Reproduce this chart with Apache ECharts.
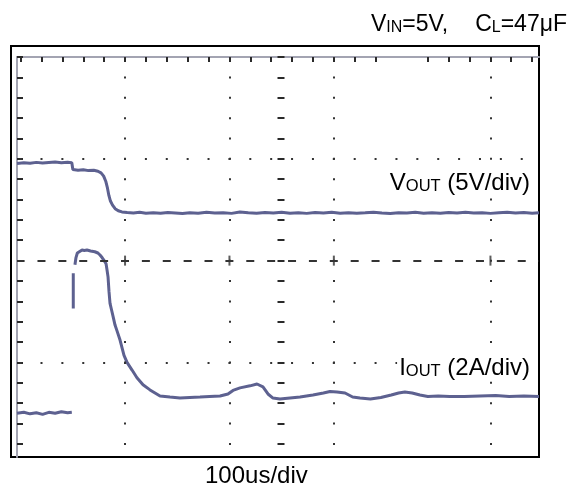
<!DOCTYPE html>
<html>
<head>
<meta charset="utf-8">
<script src="https://cdn.jsdelivr.net/npm/echarts@6/dist/echarts.min.js"></script>
<style>
  html, body { margin: 0; padding: 0; background: #fff; }
  #chart { width: 575px; height: 488px; }
</style>
</head>
<body>
<div id="chart"></div>
<script>
// time in us (100us/div), level in screen divisions (0 = dashed centre line)
var voutTime = [-3.5, 3, 9, 15, 21, 27, 33, 39, 45, 49, 50, 55, 60, 65, 70, 74, 77, 79.5, 81.5, 83, 84.5, 86, 88, 90.5, 93.5, 97,
  102, 108, 114, 120, 127, 134, 141, 148, 155, 162, 170, 178, 186, 194, 202, 210, 218, 226, 234, 242, 250, 258, 266, 274,
  282, 290, 298, 306, 314, 322, 330, 338, 346, 354, 362, 370, 378, 386, 394, 402, 410, 418, 426, 434, 442, 450, 458, 466,
  474, 482, 490, 496.5];
var voutLevel = [0.955, 0.962, 0.957, 0.965, 0.958, 0.963, 0.968, 0.961, 0.966, 0.962, 0.895, 0.888, 0.893, 0.884, 0.887, 0.878,
  0.862, 0.83, 0.78, 0.72, 0.64, 0.585, 0.545, 0.51, 0.49, 0.478,
  0.472, 0.468, 0.474, 0.466, 0.471, 0.465, 0.473, 0.468, 0.462, 0.47, 0.466, 0.474, 0.467, 0.471, 0.464, 0.478, 0.47, 0.466,
  0.473, 0.468, 0.475, 0.466, 0.47, 0.464, 0.472, 0.468, 0.474, 0.466, 0.471, 0.465, 0.47, 0.476, 0.468, 0.463, 0.471, 0.467,
  0.474, 0.466, 0.47, 0.465, 0.472, 0.468, 0.475, 0.467, 0.471, 0.464, 0.47, 0.474, 0.467, 0.472, 0.466, 0.47];

// '-' breaks the trace (the scope missed the fast edge)
var ioutTime = [-3.5, 3, 9, 15, 21, 27, 33, 39, 45, 49, 49.5, 50.4, 50.4, 51,
  52, 53, 54.3, 56, 58.8, 61, 63.5, 67, 71, 74, 76, 78, 80, 81.8, 82.7, 83.7, 84.6, 85.6, 87.2, 89, 90.4, 92.3, 95.2, 99,
  101.9, 106.7, 111.4, 117.2, 123.9, 133.5, 143, 152.6, 162, 171.8, 181, 191, 198.6, 203.4, 210.1, 219.7, 226.4, 232.1,
  236.9, 241.7, 248.4, 258, 267.6, 280, 290, 296.3, 303, 310.7, 318, 325, 335, 345, 355, 362, 368, 375, 382.5, 390, 400,
  411, 425, 440, 455, 468, 482, 496.5];
var ioutLevel = [-1.5, -1.49, -1.505, -1.495, -1.51, -1.49, -1.5, -1.485, -1.495, -1.49, '-', -0.47, -0.125, '-',
  -0.04, 0.03, 0.075, 0.09, 0.104, 0.1, 0.104, 0.095, 0.087, 0.075, 0.055, 0.03, 0.0, -0.03, -0.09, -0.16, -0.3, -0.42,
  -0.49, -0.57, -0.633, -0.69, -0.78, -0.93,
  -1.0, -1.075, -1.15, -1.22, -1.27, -1.33, -1.34, -1.35, -1.345, -1.34, -1.335, -1.33, -1.31, -1.275, -1.25, -1.23, -1.212,
  -1.24, -1.31, -1.35, -1.36, -1.35, -1.34, -1.32, -1.3, -1.285, -1.29, -1.3, -1.34, -1.35, -1.36, -1.345, -1.32, -1.3,
  -1.29, -1.3, -1.32, -1.335, -1.33, -1.335, -1.335, -1.33, -1.325, -1.335, -1.33, -1.335];

var gridX = [100, 200, 300, 450];   // dotted verticals
var gridY = [1, -1];                 // dotted horizontals

function pairs(t, v) {
  return t.map(function (x, i) { return [x, v[i]]; });
}

var traceColor = '#5d6190';
var markColor = '#2a2a2a';
var font = 'Liberation Sans, Arial, sans-serif';
function richLabel(big, small) {
  return {
    v: { fontSize: big, fontFamily: font, fontWeight: 'normal', color: '#000', verticalAlign: 'bottom' },
    s: { fontSize: small, fontFamily: font, fontWeight: 'normal', color: '#000', verticalAlign: 'bottom' },
    g: { fontSize: big, fontFamily: font, width: 27 }
  };
}
var noZero = { show: false, onZero: false };

var chart = echarts.init(document.getElementById('chart'));
chart.setOption({
  animation: false,
  backgroundColor: '#fff',
  title: [
    {
      text: '{v|V}{s|IN}{v|=5V,}{g| }{v|C}{s|L}{v|=47μF}',
      right: 8, top: 13, padding: 0,
      textStyle: { fontWeight: 'normal', rich: richLabel(23, 16) }
    },
    {
      text: '{v|V}{s|OUT}{v| (5V/div)}',
      right: 43, top: 171, padding: [0, 2], backgroundColor: '#fff',
      textStyle: { fontWeight: 'normal', rich: richLabel(24, 16.5) }
    },
    {
      text: '{v|I}{s|OUT}{v| (2A/div)}',
      right: 43, top: 356, padding: [0, 2], backgroundColor: '#fff',
      textStyle: { fontWeight: 'normal', rich: richLabel(24, 16.5) }
    },
    {
      text: '100us/div',
      left: 205, top: 464, padding: 0,
      textStyle: { fontSize: 24, fontFamily: font, color: '#000', fontWeight: 'normal' }
    }
  ],
  grid: [
    { left: 11, top: 46, width: 528, height: 411, show: true, borderColor: '#000', borderWidth: 2, outerBoundsMode: 'none' },
    { left: 17, top: 57, width: 522, height: 400, outerBoundsMode: 'none' },
    { left: 20.65, top: 57, width: 355, height: 400, outerBoundsMode: 'none' },
    { left: 17, top: 57, width: 522, height: 386.8, outerBoundsMode: 'none' },
    { left: 427.7, top: 57, width: 104.4, height: 400, outerBoundsMode: 'none' }
  ],
  xAxis: [
    { gridIndex: 0, type: 'value', show: false, min: 0, max: 1 },
    { gridIndex: 1, type: 'value', min: -3.5, max: 496.5, position: 'top',
      axisLine: { show: true, onZero: false, lineStyle: { color: '#a3a4b2', width: 2 } },
      axisTick: { show: false }, axisLabel: { show: false }, splitLine: { show: false } },
    { gridIndex: 2, type: 'value', min: 0, max: 340, interval: 20, position: 'top',
      axisLine: noZero, axisLabel: { show: false }, splitLine: { show: false },
      axisTick: { show: true, inside: true, length: 5, lineStyle: { color: markColor, width: 2 } } },
    { gridIndex: 3, type: 'value', show: false, min: 0, max: 1 },
    { gridIndex: 4, type: 'value', min: 0, max: 100, interval: 20, position: 'top',
      axisLine: noZero, axisLabel: { show: false }, splitLine: { show: false },
      axisTick: { show: true, inside: true, length: 5, lineStyle: { color: markColor, width: 2 } } }
  ],
  yAxis: [
    { gridIndex: 0, type: 'value', show: false, min: 0, max: 1 },
    { gridIndex: 1, type: 'value', min: -1.929, max: 2.0,
      axisLine: { show: true, onZero: false, lineStyle: { color: '#a3a4b2', width: 2 } },
      axisTick: { show: false }, axisLabel: { show: false }, splitLine: { show: false } },
    { gridIndex: 2, type: 'value', show: false, min: 0, max: 1 },
    { gridIndex: 3, type: 'value', min: -1.8, max: 2.0, interval: 0.2, position: 'left',
      axisLine: noZero, axisLabel: { show: false }, splitLine: { show: false },
      axisTick: { show: true, inside: true, length: 6, lineStyle: { color: markColor, width: 2 } } },
    { gridIndex: 3, type: 'value', min: -1.8, max: 2.0, interval: 0.2, position: 'left', offset: -267.5,
      axisLine: noZero, axisLabel: { show: false }, splitLine: { show: false },
      axisTick: { show: true, inside: false, length: 7, lineStyle: { color: markColor, width: 2 } } },
    { gridIndex: 4, type: 'value', show: false, min: 0, max: 1 }
  ],
  series: [
    {
      name: 'graticule', type: 'line', xAxisIndex: 1, yAxisIndex: 1, data: [], z: 1,
      markLine: {
        silent: true, symbol: 'none', label: { show: false }, animation: false,
        data: gridX.map(function (v) {
          return { xAxis: v, lineStyle: { color: '#333', width: 2, type: [2, 18.36], dashOffset: 8.26 } };
        }).concat(gridY.map(function (v) {
          return { yAxis: v, lineStyle: { color: '#333', width: 2, type: [2, 18.88], dashOffset: 18.26 } };
        })).concat([
          { yAxis: 0, lineStyle: { color: '#333', width: 2, type: [8, 12.88], dashOffset: 0.4 } }
        ])
      }
    },
    {
      name: 'cross', type: 'scatter', xAxisIndex: 1, yAxisIndex: 1, z: 1, silent: true,
      symbol: 'rect', symbolSize: [2, 10], itemStyle: { color: '#333' },
      data: gridX.map(function (v) { return [v, 0]; })
    },
    {
      name: 'VOUT', type: 'line', xAxisIndex: 1, yAxisIndex: 1, z: 3,
      showSymbol: false, symbol: 'none',
      lineStyle: { color: traceColor, width: 3 },
      data: pairs(voutTime, voutLevel)
    },
    {
      name: 'IOUT', type: 'line', xAxisIndex: 1, yAxisIndex: 1, z: 3,
      showSymbol: false, symbol: 'none', connectNulls: false,
      lineStyle: { color: traceColor, width: 3 },
      data: pairs(ioutTime, ioutLevel)
    }
  ]
});
</script>
</body>
</html>
